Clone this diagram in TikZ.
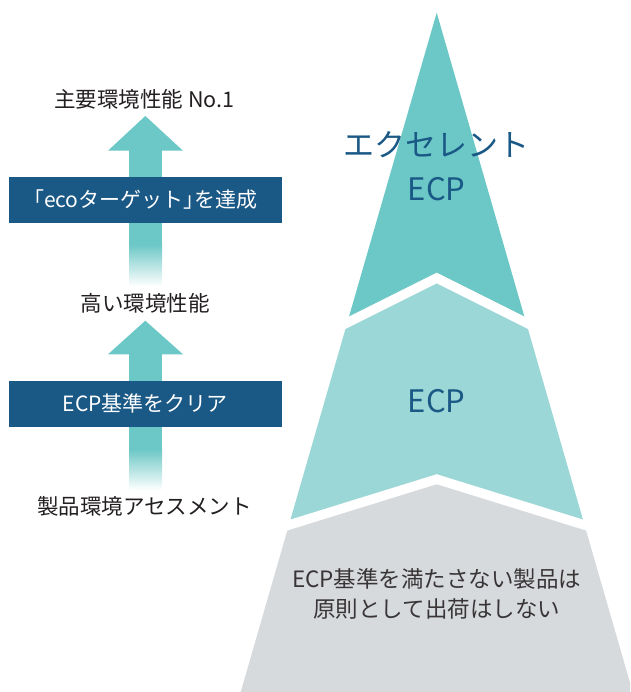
\documentclass[tikz,border=0pt]{standalone}
\usepackage{fontspec}
\setmainfont{Noto Sans CJK JP}
\newcommand{\halfbr}[1]{{\addfontfeatures{RawFeature=+halt}#1}}
\definecolor{tealA}{HTML}{6CC8C6}
\definecolor{tealB}{HTML}{9BD7D6}
\definecolor{grayC}{HTML}{D7DADD}
\definecolor{navy}{HTML}{1A5885}
\definecolor{ink}{HTML}{231F20}
\tikzset{
  bluelabel/.style={inner sep=0pt, text=navy, font=\fontsize{31}{36}\selectfont},
  leftlabel/.style={inner sep=0pt, text=ink, font=\fontsize{21.5}{26}\selectfont},
  darkbox/.style={fill=navy, text=white, inner sep=0pt, minimum width=272.7pt, font=\fontsize{21}{25}\selectfont},
  graytext/.style={inner sep=0pt, text=ink!90, align=center, font=\fontsize{22.5}{30}\selectfont},
  gap/.style={white, line width=9.5pt},
}
\begin{document}
\begin{tikzpicture}[x=1pt,y=-1pt]
\useasboundingbox (0,0) rectangle (630,692);
\clip (0,0) rectangle (630,692);
% pyramid
\fill[tealA] (436.7,12.7) -- (347.25,322.7) -- (436.7,278) -- (526.15,322.7) -- cycle;
\fill[tealB] (347.25,322.7) -- (436.7,278) -- (526.15,322.7) -- (584.5,525) -- (436.7,479.2) -- (288.9,525) -- cycle;
\fill[grayC] (288.9,525) -- (436.7,479.2) -- (584.5,525) -- (632.7,692) -- (240.7,692) -- cycle;
\draw[gap] (337,327.85) -- (436.7,278) -- (536.4,327.85);
\draw[gap] (278.9,528.1) -- (436.7,479.2) -- (594.5,528.1);
\node[bluelabel] (excel) at (436.7,145) {エクセレント};
\node[bluelabel] (ecpA) at (436.7,189) {ECP};
\node[bluelabel] (ecpB) at (436.7,401) {ECP};
\node[graytext] (reject) at (436.7,594) {ECP基準を満たさない製品は\\原則として出荷はしない};
% left arrows
\fill[tealA] (108,150.7) -- (145.3,116) -- (183,150.7) -- cycle;
\fill[tealA] (129,150) rectangle (162,245);
\shade[top color=tealA, bottom color=white] (129,244.5) rectangle (162,286);
\fill[tealA] (108,354.3) -- (145.3,320.7) -- (183,354.3) -- cycle;
\fill[tealA] (129,354) rectangle (162,450);
\shade[top color=tealA, bottom color=white] (129,449.5) rectangle (162,490);
\node[darkbox, minimum height=46pt] (boxA) at (145.35,199.7) {\halfbr{「}ecoターゲット\halfbr{」}を達成};
\node[darkbox, minimum height=45.7pt] (boxB) at (145.35,403.85) {ECP基準をクリア};
\node[leftlabel] (topl) at (144.5,99) {主要環境性能 No.1};
\node[leftlabel] (midl) at (145,303) {高い環境性能};
\node[leftlabel] (botl) at (144.5,506) {製品環境アセスメント};
\end{tikzpicture}
\end{document}
